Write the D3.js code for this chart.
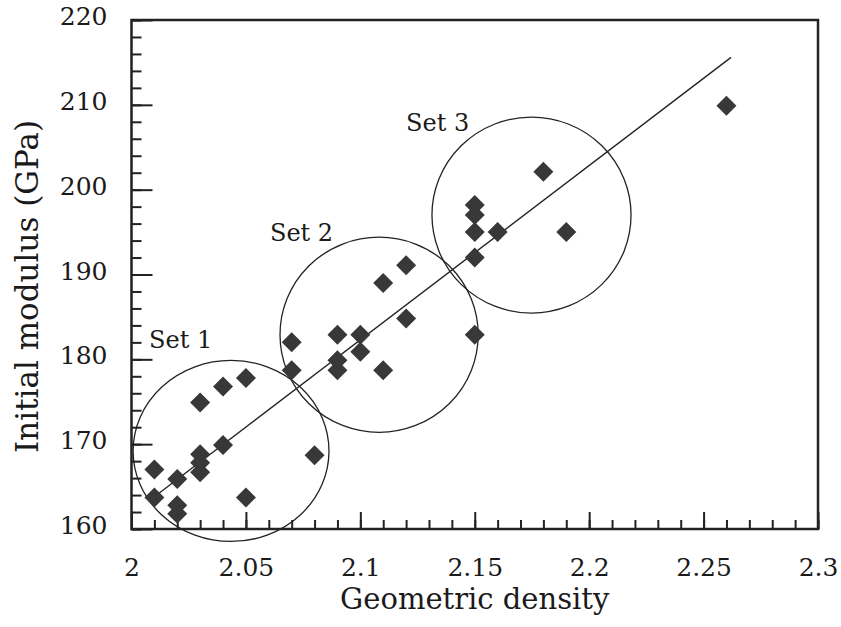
<!DOCTYPE html>
<html>
<head>
<meta charset="utf-8">
<script src="https://cdn.jsdelivr.net/npm/d3@7"></script>
<style>
  body { margin: 0; background: #fff; }
  svg text { font-family: "DejaVu Serif", "Liberation Serif", serif; fill: #1a1a1a; }
</style>
</head>
<body>
<svg width="841" height="627"></svg>
<script>
// measured points: geometric density vs initial modulus (GPa)
const density = [2.01, 2.01, 2.02, 2.02, 2.02, 2.03, 2.03, 2.03, 2.03, 2.04, 2.04, 2.05, 2.05, 2.08,
  2.07, 2.07, 2.09, 2.09, 2.09, 2.10, 2.10, 2.11, 2.11, 2.12, 2.12,
  2.15, 2.15, 2.15, 2.15, 2.15, 2.16, 2.18, 2.19, 2.26];
const modulus = [167.0, 163.7, 165.9, 162.8, 161.8, 174.9, 168.8, 167.8, 166.7, 176.8, 169.9, 177.8, 163.7, 168.7,
  182.0, 178.7, 182.9, 179.9, 178.7, 182.9, 180.9, 189.0, 178.7, 191.1, 184.8,
  198.2, 197.0, 195.0, 192.0, 182.9, 195.0, 202.1, 195.0, 209.9];

// fitted line end points
const fitX = [2.01, 2.262];
const fitY = [163.8, 215.6];

// grouping circles (centre and radii in data units)
const setNames = ["Set 1", "Set 2", "Set 3"];
const setCx = [2.0435, 2.1082, 2.1748];
const setCy = [169.2, 182.9, 197.0];
const setRx = [0.0428, 0.0433, 0.0435];
const setRy = [10.67, 11.5, 11.55];
const setLabelX = [2.0077, 2.0605, 2.12];
const setLabelY = [181.3, 193.9, 206.9];

const xTicks = [2, 2.05, 2.1, 2.15, 2.2, 2.25, 2.3];
const yTicks = [160, 170, 180, 190, 200, 210, 220];

const margin = {top: 20, left: 131.5, right: 23, bottom: 98};
const width = 841 - margin.left - margin.right,
      height = 627 - margin.top - margin.bottom;

const svg = d3.select("svg")
    .append("g")
    .attr("transform", "translate(" + margin.left + "," + margin.top + ")");

const x = d3.scaleLinear().domain([2, 2.3]).range([0, width]);
const y = d3.scaleLinear().domain([160, 220]).range([height, 0]);

const ink = "#222";

// minor ticks
const xMinor = d3.range(0, 31).map(i => 2 + i * 0.01);
const yMinor = d3.range(0, 31).map(i => 160 + i * 2);

svg.append("g")
    .attr("transform", `translate(0,${height})`)
    .call(d3.axisBottom(x).tickValues(xMinor).tickSize(-9).tickFormat(""))
    .call(g => g.select(".domain").remove());

svg.append("g")
    .call(d3.axisLeft(y).tickValues(yMinor).tickSize(-10).tickFormat(""))
    .call(g => g.select(".domain").remove());

// major ticks with labels
svg.append("g")
    .attr("transform", `translate(0,${height})`)
    .call(d3.axisBottom(x).tickValues(xTicks).tickSize(-17).tickPadding(29).tickFormat(d3.format("")))
    .call(g => g.select(".domain").remove())
    .call(g => g.selectAll("text").style("font-size", "25px"));

svg.append("g")
    .call(d3.axisLeft(y).tickValues(yTicks).tickSize(-21).tickPadding(24).tickFormat(d3.format("")))
    .call(g => g.select(".domain").remove())
    .call(g => g.selectAll("text").style("font-size", "25px").attr("dy", "0.18em"));

svg.selectAll(".tick line")
    .attr("stroke", ink)
    .attr("stroke-width", 2);

// frame
svg.append("rect")
    .attr("x", 0)
    .attr("y", 0)
    .attr("width", width)
    .attr("height", height)
    .attr("fill", "none")
    .attr("stroke", ink)
    .attr("stroke-width", 2.5);

// circles around sets
svg.append("g")
    .selectAll("ellipse")
    .data(setNames)
    .join("ellipse")
    .attr("cx", (d, i) => x(setCx[i]))
    .attr("cy", (d, i) => y(setCy[i]))
    .attr("rx", (d, i) => x(2 + setRx[i]) - x(2))
    .attr("ry", (d, i) => y(160) - y(160 + setRy[i]))
    .attr("fill", "none")
    .attr("stroke", ink)
    .attr("stroke-width", 1.3);

svg.append("g")
    .selectAll("text")
    .data(setNames)
    .join("text")
    .attr("x", (d, i) => x(setLabelX[i]))
    .attr("y", (d, i) => y(setLabelY[i]))
    .style("font-size", "24px")
    .text(d => d);

// fitted line
svg.append("line")
    .attr("x1", x(fitX[0]))
    .attr("y1", y(fitY[0]))
    .attr("x2", x(fitX[1]))
    .attr("y2", y(fitY[1]))
    .attr("stroke", ink)
    .attr("stroke-width", 1.4);

// diamonds
const diamond = d3.symbol().type(d3.symbolSquare).size(200);
svg.append("g")
    .selectAll("path")
    .data(density)
    .join("path")
    .attr("d", diamond)
    .attr("transform", (d, i) => `translate(${x(d)},${y(modulus[i])}) rotate(45)`)
    .attr("fill", "#383838");

// axis titles
svg.append("text")
    .attr("x", width / 2)
    .attr("y", height + 80)
    .style("text-anchor", "middle")
    .style("font-size", "29px")
    .text("Geometric density");

svg.append("text")
    .attr("transform", "rotate(-90)")
    .attr("x", -height / 2 - 12)
    .attr("y", -94)
    .style("text-anchor", "middle")
    .style("font-size", "31px")
    .text("Initial modulus (GPa)");
</script>
</body>
</html>
